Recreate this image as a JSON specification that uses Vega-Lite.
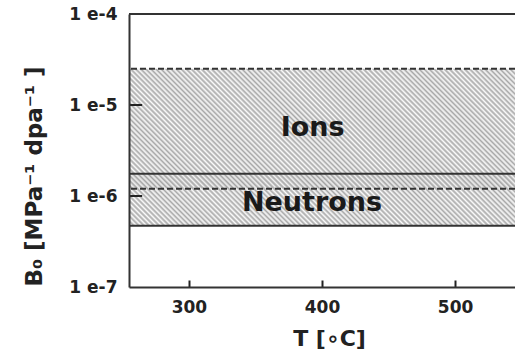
{
  "$schema": "https://vega.github.io/schema/vega-lite/v6.json",
  "width": 386,
  "height": 273,
  "autosize": "none",
  "padding": {"left": 129, "top": 14, "right": 0, "bottom": 64},
  "background": "white",
  "config": {
    "font": "DejaVu Sans",
    "view": {"stroke": null},
    "axis": {
      "grid": false,
      "domainColor": "#333",
      "domainWidth": 2,
      "tickColor": "#222",
      "tickWidth": 2,
      "labelFont": "DejaVu Sans",
      "labelFontWeight": "bold",
      "labelFontSize": 17,
      "labelColor": "#222",
      "titleFont": "DejaVu Sans",
      "titleFontWeight": "bold",
      "titleFontSize": 22,
      "titleColor": "#222"
    }
  },
  "datasets": {
    "bands": [
      {"series": "Ions", "lo": 1.2e-6, "hi": 2.5e-5, "tmin": 255, "tmax": 545},
      {"series": "Neutrons", "lo": 4.7e-7, "hi": 1.76e-6, "tmin": 255, "tmax": 545}
    ],
    "labels": [
      {"label": "Ions", "T": 393, "B": 5.6e-6},
      {"label": "Neutrons", "T": 392.5, "B": 8.4e-7}
    ],
    "frame": [{"B": 1e-4}],
    "yticks": [{"B": 1e-5}, {"B": 1e-6}]
  },
  "layer": [
    {
      "data": {"name": "bands"},
      "transform": [{"filter": "datum.series === 'Ions'"}],
      "mark": {"type": "rect", "fillOpacity": 0.85, "strokeWidth": 0,
        "fill": {"gradient": "linear", "x1": 0, "y1": 1, "x2": 1.1954, "y2": 0.6284,
          "stops": [{"offset":0,"color":"#999"},{"offset":0.005,"color":"#fafafa"},{"offset":0.01,"color":"#999"},{"offset":0.015,"color":"#fafafa"},{"offset":0.02,"color":"#999"},{"offset":0.025,"color":"#fafafa"},{"offset":0.03,"color":"#999"},{"offset":0.035,"color":"#fafafa"},{"offset":0.04,"color":"#999"},{"offset":0.045,"color":"#fafafa"},{"offset":0.05,"color":"#999"},{"offset":0.055,"color":"#fafafa"},{"offset":0.06,"color":"#999"},{"offset":0.065,"color":"#fafafa"},{"offset":0.07,"color":"#999"},{"offset":0.075,"color":"#fafafa"},{"offset":0.08,"color":"#999"},{"offset":0.085,"color":"#fafafa"},{"offset":0.09,"color":"#999"},{"offset":0.095,"color":"#fafafa"},{"offset":0.1,"color":"#999"},{"offset":0.105,"color":"#fafafa"},{"offset":0.11,"color":"#999"},{"offset":0.115,"color":"#fafafa"},{"offset":0.12,"color":"#999"},{"offset":0.125,"color":"#fafafa"},{"offset":0.13,"color":"#999"},{"offset":0.135,"color":"#fafafa"},{"offset":0.14,"color":"#999"},{"offset":0.145,"color":"#fafafa"},{"offset":0.15,"color":"#999"},{"offset":0.155,"color":"#fafafa"},{"offset":0.16,"color":"#999"},{"offset":0.165,"color":"#fafafa"},{"offset":0.17,"color":"#999"},{"offset":0.175,"color":"#fafafa"},{"offset":0.18,"color":"#999"},{"offset":0.185,"color":"#fafafa"},{"offset":0.19,"color":"#999"},{"offset":0.195,"color":"#fafafa"},{"offset":0.2,"color":"#999"},{"offset":0.205,"color":"#fafafa"},{"offset":0.21,"color":"#999"},{"offset":0.215,"color":"#fafafa"},{"offset":0.22,"color":"#999"},{"offset":0.225,"color":"#fafafa"},{"offset":0.23,"color":"#999"},{"offset":0.235,"color":"#fafafa"},{"offset":0.24,"color":"#999"},{"offset":0.245,"color":"#fafafa"},{"offset":0.25,"color":"#999"},{"offset":0.255,"color":"#fafafa"},{"offset":0.26,"color":"#999"},{"offset":0.265,"color":"#fafafa"},{"offset":0.27,"color":"#999"},{"offset":0.275,"color":"#fafafa"},{"offset":0.28,"color":"#999"},{"offset":0.285,"color":"#fafafa"},{"offset":0.29,"color":"#999"},{"offset":0.295,"color":"#fafafa"},{"offset":0.3,"color":"#999"},{"offset":0.305,"color":"#fafafa"},{"offset":0.31,"color":"#999"},{"offset":0.315,"color":"#fafafa"},{"offset":0.32,"color":"#999"},{"offset":0.325,"color":"#fafafa"},{"offset":0.33,"color":"#999"},{"offset":0.335,"color":"#fafafa"},{"offset":0.34,"color":"#999"},{"offset":0.345,"color":"#fafafa"},{"offset":0.35,"color":"#999"},{"offset":0.355,"color":"#fafafa"},{"offset":0.36,"color":"#999"},{"offset":0.365,"color":"#fafafa"},{"offset":0.37,"color":"#999"},{"offset":0.375,"color":"#fafafa"},{"offset":0.38,"color":"#999"},{"offset":0.385,"color":"#fafafa"},{"offset":0.39,"color":"#999"},{"offset":0.395,"color":"#fafafa"},{"offset":0.4,"color":"#999"},{"offset":0.405,"color":"#fafafa"},{"offset":0.41,"color":"#999"},{"offset":0.415,"color":"#fafafa"},{"offset":0.42,"color":"#999"},{"offset":0.425,"color":"#fafafa"},{"offset":0.43,"color":"#999"},{"offset":0.435,"color":"#fafafa"},{"offset":0.44,"color":"#999"},{"offset":0.445,"color":"#fafafa"},{"offset":0.45,"color":"#999"},{"offset":0.455,"color":"#fafafa"},{"offset":0.46,"color":"#999"},{"offset":0.465,"color":"#fafafa"},{"offset":0.47,"color":"#999"},{"offset":0.475,"color":"#fafafa"},{"offset":0.48,"color":"#999"},{"offset":0.485,"color":"#fafafa"},{"offset":0.49,"color":"#999"},{"offset":0.495,"color":"#fafafa"},{"offset":0.5,"color":"#999"},{"offset":0.505,"color":"#fafafa"},{"offset":0.51,"color":"#999"},{"offset":0.515,"color":"#fafafa"},{"offset":0.52,"color":"#999"},{"offset":0.525,"color":"#fafafa"},{"offset":0.53,"color":"#999"},{"offset":0.535,"color":"#fafafa"},{"offset":0.54,"color":"#999"},{"offset":0.545,"color":"#fafafa"},{"offset":0.55,"color":"#999"},{"offset":0.555,"color":"#fafafa"},{"offset":0.56,"color":"#999"},{"offset":0.565,"color":"#fafafa"},{"offset":0.57,"color":"#999"},{"offset":0.575,"color":"#fafafa"},{"offset":0.58,"color":"#999"},{"offset":0.585,"color":"#fafafa"},{"offset":0.59,"color":"#999"},{"offset":0.595,"color":"#fafafa"},{"offset":0.6,"color":"#999"},{"offset":0.605,"color":"#fafafa"},{"offset":0.61,"color":"#999"},{"offset":0.615,"color":"#fafafa"},{"offset":0.62,"color":"#999"},{"offset":0.625,"color":"#fafafa"},{"offset":0.63,"color":"#999"},{"offset":0.635,"color":"#fafafa"},{"offset":0.64,"color":"#999"},{"offset":0.645,"color":"#fafafa"},{"offset":0.65,"color":"#999"},{"offset":0.655,"color":"#fafafa"},{"offset":0.66,"color":"#999"},{"offset":0.665,"color":"#fafafa"},{"offset":0.67,"color":"#999"},{"offset":0.675,"color":"#fafafa"},{"offset":0.68,"color":"#999"},{"offset":0.685,"color":"#fafafa"},{"offset":0.69,"color":"#999"},{"offset":0.695,"color":"#fafafa"},{"offset":0.7,"color":"#999"},{"offset":0.705,"color":"#fafafa"},{"offset":0.71,"color":"#999"},{"offset":0.715,"color":"#fafafa"},{"offset":0.72,"color":"#999"},{"offset":0.725,"color":"#fafafa"},{"offset":0.73,"color":"#999"},{"offset":0.735,"color":"#fafafa"},{"offset":0.74,"color":"#999"},{"offset":0.745,"color":"#fafafa"},{"offset":0.75,"color":"#999"},{"offset":0.755,"color":"#fafafa"},{"offset":0.76,"color":"#999"},{"offset":0.765,"color":"#fafafa"},{"offset":0.77,"color":"#999"},{"offset":0.775,"color":"#fafafa"},{"offset":0.78,"color":"#999"},{"offset":0.785,"color":"#fafafa"},{"offset":0.79,"color":"#999"},{"offset":0.795,"color":"#fafafa"},{"offset":0.8,"color":"#999"},{"offset":0.805,"color":"#fafafa"},{"offset":0.81,"color":"#999"},{"offset":0.815,"color":"#fafafa"},{"offset":0.82,"color":"#999"},{"offset":0.825,"color":"#fafafa"},{"offset":0.83,"color":"#999"},{"offset":0.835,"color":"#fafafa"},{"offset":0.84,"color":"#999"},{"offset":0.845,"color":"#fafafa"},{"offset":0.85,"color":"#999"},{"offset":0.855,"color":"#fafafa"},{"offset":0.86,"color":"#999"},{"offset":0.865,"color":"#fafafa"},{"offset":0.87,"color":"#999"},{"offset":0.875,"color":"#fafafa"},{"offset":0.88,"color":"#999"},{"offset":0.885,"color":"#fafafa"},{"offset":0.89,"color":"#999"},{"offset":0.895,"color":"#fafafa"},{"offset":0.9,"color":"#999"},{"offset":0.905,"color":"#fafafa"},{"offset":0.91,"color":"#999"},{"offset":0.915,"color":"#fafafa"},{"offset":0.92,"color":"#999"},{"offset":0.925,"color":"#fafafa"},{"offset":0.93,"color":"#999"},{"offset":0.935,"color":"#fafafa"},{"offset":0.94,"color":"#999"},{"offset":0.945,"color":"#fafafa"},{"offset":0.95,"color":"#999"},{"offset":0.955,"color":"#fafafa"},{"offset":0.96,"color":"#999"},{"offset":0.965,"color":"#fafafa"},{"offset":0.97,"color":"#999"},{"offset":0.975,"color":"#fafafa"},{"offset":0.98,"color":"#999"},{"offset":0.985,"color":"#fafafa"},{"offset":0.99,"color":"#999"},{"offset":0.995,"color":"#fafafa"},{"offset":1,"color":"#999"}]}},
      "encoding": {
        "x": {"field": "tmin", "type": "quantitative", "title": "T [∘C]",
          "scale": {"domain": [255, 545], "nice": false, "zero": false},
          "axis": {"values": [300, 400, 500], "tickSize": -7, "labelPadding": 19, "titlePadding": 13, "titleX": 200, "zindex": 2}},
        "x2": {"field": "tmax"},
        "y": {"field": "lo", "type": "quantitative", "title": "B₀ [MPa⁻¹ dpa⁻¹ ]",
          "scale": {"type": "log", "domain": [1e-7, 1e-4], "nice": false},
          "axis": {"values": [1e-7, 1e-6, 1e-5, 1e-4], "ticks": false, "labelPadding": 12, "zindex": 2,
            "labelExpr": "'1 e' + round(log(datum.value) / LN10)", "titlePadding": 22, "titleFontSize": 23, "titleY": 162}},
        "y2": {"field": "hi"}
      }
    },
    {
      "data": {"name": "bands"},
      "transform": [{"filter": "datum.series === 'Neutrons'"}],
      "mark": {"type": "rect", "fillOpacity": 0.85, "strokeWidth": 0,
        "fill": {"gradient": "linear", "x1": 0, "y1": 1, "x2": 1.2876, "y2": 0.8259,
          "stops": [{"offset":0,"color":"#999"},{"offset":0.005,"color":"#fafafa"},{"offset":0.01,"color":"#999"},{"offset":0.015,"color":"#fafafa"},{"offset":0.02,"color":"#999"},{"offset":0.025,"color":"#fafafa"},{"offset":0.03,"color":"#999"},{"offset":0.035,"color":"#fafafa"},{"offset":0.04,"color":"#999"},{"offset":0.045,"color":"#fafafa"},{"offset":0.05,"color":"#999"},{"offset":0.055,"color":"#fafafa"},{"offset":0.06,"color":"#999"},{"offset":0.065,"color":"#fafafa"},{"offset":0.07,"color":"#999"},{"offset":0.075,"color":"#fafafa"},{"offset":0.08,"color":"#999"},{"offset":0.085,"color":"#fafafa"},{"offset":0.09,"color":"#999"},{"offset":0.095,"color":"#fafafa"},{"offset":0.1,"color":"#999"},{"offset":0.105,"color":"#fafafa"},{"offset":0.11,"color":"#999"},{"offset":0.115,"color":"#fafafa"},{"offset":0.12,"color":"#999"},{"offset":0.125,"color":"#fafafa"},{"offset":0.13,"color":"#999"},{"offset":0.135,"color":"#fafafa"},{"offset":0.14,"color":"#999"},{"offset":0.145,"color":"#fafafa"},{"offset":0.15,"color":"#999"},{"offset":0.155,"color":"#fafafa"},{"offset":0.16,"color":"#999"},{"offset":0.165,"color":"#fafafa"},{"offset":0.17,"color":"#999"},{"offset":0.175,"color":"#fafafa"},{"offset":0.18,"color":"#999"},{"offset":0.185,"color":"#fafafa"},{"offset":0.19,"color":"#999"},{"offset":0.195,"color":"#fafafa"},{"offset":0.2,"color":"#999"},{"offset":0.205,"color":"#fafafa"},{"offset":0.21,"color":"#999"},{"offset":0.215,"color":"#fafafa"},{"offset":0.22,"color":"#999"},{"offset":0.225,"color":"#fafafa"},{"offset":0.23,"color":"#999"},{"offset":0.235,"color":"#fafafa"},{"offset":0.24,"color":"#999"},{"offset":0.245,"color":"#fafafa"},{"offset":0.25,"color":"#999"},{"offset":0.255,"color":"#fafafa"},{"offset":0.26,"color":"#999"},{"offset":0.265,"color":"#fafafa"},{"offset":0.27,"color":"#999"},{"offset":0.275,"color":"#fafafa"},{"offset":0.28,"color":"#999"},{"offset":0.285,"color":"#fafafa"},{"offset":0.29,"color":"#999"},{"offset":0.295,"color":"#fafafa"},{"offset":0.3,"color":"#999"},{"offset":0.305,"color":"#fafafa"},{"offset":0.31,"color":"#999"},{"offset":0.315,"color":"#fafafa"},{"offset":0.32,"color":"#999"},{"offset":0.325,"color":"#fafafa"},{"offset":0.33,"color":"#999"},{"offset":0.335,"color":"#fafafa"},{"offset":0.34,"color":"#999"},{"offset":0.345,"color":"#fafafa"},{"offset":0.35,"color":"#999"},{"offset":0.355,"color":"#fafafa"},{"offset":0.36,"color":"#999"},{"offset":0.365,"color":"#fafafa"},{"offset":0.37,"color":"#999"},{"offset":0.375,"color":"#fafafa"},{"offset":0.38,"color":"#999"},{"offset":0.385,"color":"#fafafa"},{"offset":0.39,"color":"#999"},{"offset":0.395,"color":"#fafafa"},{"offset":0.4,"color":"#999"},{"offset":0.405,"color":"#fafafa"},{"offset":0.41,"color":"#999"},{"offset":0.415,"color":"#fafafa"},{"offset":0.42,"color":"#999"},{"offset":0.425,"color":"#fafafa"},{"offset":0.43,"color":"#999"},{"offset":0.435,"color":"#fafafa"},{"offset":0.44,"color":"#999"},{"offset":0.445,"color":"#fafafa"},{"offset":0.45,"color":"#999"},{"offset":0.455,"color":"#fafafa"},{"offset":0.46,"color":"#999"},{"offset":0.465,"color":"#fafafa"},{"offset":0.47,"color":"#999"},{"offset":0.475,"color":"#fafafa"},{"offset":0.48,"color":"#999"},{"offset":0.485,"color":"#fafafa"},{"offset":0.49,"color":"#999"},{"offset":0.495,"color":"#fafafa"},{"offset":0.5,"color":"#999"},{"offset":0.505,"color":"#fafafa"},{"offset":0.51,"color":"#999"},{"offset":0.515,"color":"#fafafa"},{"offset":0.52,"color":"#999"},{"offset":0.525,"color":"#fafafa"},{"offset":0.53,"color":"#999"},{"offset":0.535,"color":"#fafafa"},{"offset":0.54,"color":"#999"},{"offset":0.545,"color":"#fafafa"},{"offset":0.55,"color":"#999"},{"offset":0.555,"color":"#fafafa"},{"offset":0.56,"color":"#999"},{"offset":0.565,"color":"#fafafa"},{"offset":0.57,"color":"#999"},{"offset":0.575,"color":"#fafafa"},{"offset":0.58,"color":"#999"},{"offset":0.585,"color":"#fafafa"},{"offset":0.59,"color":"#999"},{"offset":0.595,"color":"#fafafa"},{"offset":0.6,"color":"#999"},{"offset":0.605,"color":"#fafafa"},{"offset":0.61,"color":"#999"},{"offset":0.615,"color":"#fafafa"},{"offset":0.62,"color":"#999"},{"offset":0.625,"color":"#fafafa"},{"offset":0.63,"color":"#999"},{"offset":0.635,"color":"#fafafa"},{"offset":0.64,"color":"#999"},{"offset":0.645,"color":"#fafafa"},{"offset":0.65,"color":"#999"},{"offset":0.655,"color":"#fafafa"},{"offset":0.66,"color":"#999"},{"offset":0.665,"color":"#fafafa"},{"offset":0.67,"color":"#999"},{"offset":0.675,"color":"#fafafa"},{"offset":0.68,"color":"#999"},{"offset":0.685,"color":"#fafafa"},{"offset":0.69,"color":"#999"},{"offset":0.695,"color":"#fafafa"},{"offset":0.7,"color":"#999"},{"offset":0.705,"color":"#fafafa"},{"offset":0.71,"color":"#999"},{"offset":0.715,"color":"#fafafa"},{"offset":0.72,"color":"#999"},{"offset":0.725,"color":"#fafafa"},{"offset":0.73,"color":"#999"},{"offset":0.735,"color":"#fafafa"},{"offset":0.74,"color":"#999"},{"offset":0.745,"color":"#fafafa"},{"offset":0.75,"color":"#999"},{"offset":0.755,"color":"#fafafa"},{"offset":0.76,"color":"#999"},{"offset":0.765,"color":"#fafafa"},{"offset":0.77,"color":"#999"},{"offset":0.775,"color":"#fafafa"},{"offset":0.78,"color":"#999"},{"offset":0.785,"color":"#fafafa"},{"offset":0.79,"color":"#999"},{"offset":0.795,"color":"#fafafa"},{"offset":0.8,"color":"#999"},{"offset":0.805,"color":"#fafafa"},{"offset":0.81,"color":"#999"},{"offset":0.815,"color":"#fafafa"},{"offset":0.82,"color":"#999"},{"offset":0.825,"color":"#fafafa"},{"offset":0.83,"color":"#999"},{"offset":0.835,"color":"#fafafa"},{"offset":0.84,"color":"#999"},{"offset":0.845,"color":"#fafafa"},{"offset":0.85,"color":"#999"},{"offset":0.855,"color":"#fafafa"},{"offset":0.86,"color":"#999"},{"offset":0.865,"color":"#fafafa"},{"offset":0.87,"color":"#999"},{"offset":0.875,"color":"#fafafa"},{"offset":0.88,"color":"#999"},{"offset":0.885,"color":"#fafafa"},{"offset":0.89,"color":"#999"},{"offset":0.895,"color":"#fafafa"},{"offset":0.9,"color":"#999"},{"offset":0.905,"color":"#fafafa"},{"offset":0.91,"color":"#999"},{"offset":0.915,"color":"#fafafa"},{"offset":0.92,"color":"#999"},{"offset":0.925,"color":"#fafafa"},{"offset":0.93,"color":"#999"},{"offset":0.935,"color":"#fafafa"},{"offset":0.94,"color":"#999"},{"offset":0.945,"color":"#fafafa"},{"offset":0.95,"color":"#999"},{"offset":0.955,"color":"#fafafa"},{"offset":0.96,"color":"#999"},{"offset":0.965,"color":"#fafafa"},{"offset":0.97,"color":"#999"},{"offset":0.975,"color":"#fafafa"},{"offset":0.98,"color":"#999"},{"offset":0.985,"color":"#fafafa"},{"offset":0.99,"color":"#999"},{"offset":0.995,"color":"#fafafa"},{"offset":1,"color":"#999"}]}},
      "encoding": {
        "x": {"field": "tmin", "type": "quantitative", "title": "T [∘C]"},
        "x2": {"field": "tmax"},
        "y": {"field": "lo", "type": "quantitative", "title": "B₀ [MPa⁻¹ dpa⁻¹ ]"},
        "y2": {"field": "hi"}
      }
    },
    {
      "data": {"name": "bands"},
      "mark": {"type": "rule", "strokeWidth": 2, "color": "#333"},
      "encoding": {
        "y": {"field": "lo", "type": "quantitative", "title": "B₀ [MPa⁻¹ dpa⁻¹ ]"},
        "strokeDash": {"field": "series", "type": "nominal", "legend": null,
          "scale": {"domain": ["Ions", "Neutrons"], "range": [[6, 3], [1, 0]]}}
      }
    },
    {
      "data": {"name": "bands"},
      "mark": {"type": "rule", "strokeWidth": 2, "color": "#333"},
      "encoding": {
        "y": {"field": "hi", "type": "quantitative", "title": "B₀ [MPa⁻¹ dpa⁻¹ ]"},
        "strokeDash": {"field": "series", "type": "nominal", "legend": null,
          "scale": {"domain": ["Ions", "Neutrons"], "range": [[6, 3], [1, 0]]}}
      }
    },
    {
      "data": {"name": "frame"},
      "mark": {"type": "rule", "strokeWidth": 2, "color": "#333"},
      "encoding": {
        "y": {"field": "B", "type": "quantitative", "title": "B₀ [MPa⁻¹ dpa⁻¹ ]"}
      }
    },
    {
      "data": {"name": "yticks"},
      "mark": {"type": "tick", "orient": "horizontal", "color": "#222", "thickness": 2, "size": 13, "opacity": 1},
      "encoding": {
        "x": {"datum": 260, "type": "quantitative"},
        "y": {"field": "B", "type": "quantitative", "title": "B₀ [MPa⁻¹ dpa⁻¹ ]"}
      }
    },
    {
      "data": {"name": "labels"},
      "mark": {"type": "text", "font": "DejaVu Sans", "fontWeight": "bold", "fontSize": 27,
        "color": "#1a1a1a", "align": "center", "baseline": "middle"},
      "encoding": {
        "x": {"field": "T", "type": "quantitative", "title": "T [∘C]"},
        "y": {"field": "B", "type": "quantitative", "title": "B₀ [MPa⁻¹ dpa⁻¹ ]"},
        "text": {"field": "label"}
      }
    }
  ]
}
